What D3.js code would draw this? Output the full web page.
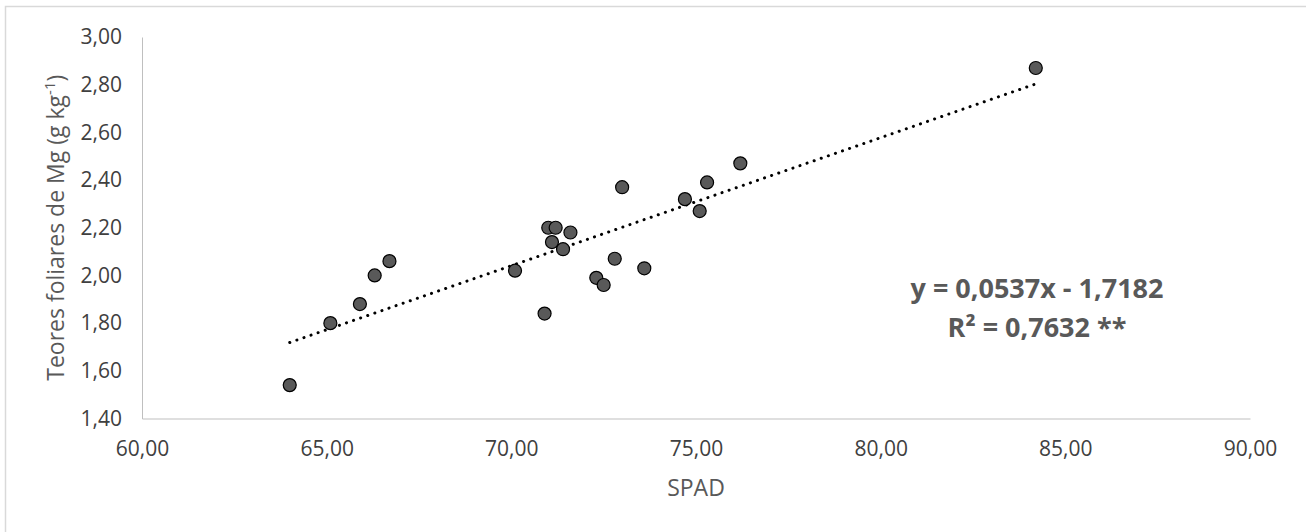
<!DOCTYPE html>
<meta charset="utf-8">
<style>

body {
  margin: 0;
  background: #fff;
  font-family: "Open Sans", sans-serif;
}

.axis path {
  fill: none;
  stroke: #bfbfbf;
  stroke-width: 1px;
}

.axis text {
  font-family: "Open Sans", sans-serif;
  font-size: 21px;
  fill: #404040;
}

.trend {
  fill: none;
  stroke: #000;
  stroke-width: 3px;
  stroke-linecap: round;
  stroke-dasharray: 0.1 7.4;
}

.dot {
  fill: #595959;
  stroke: #000;
  stroke-width: 1.2px;
}

.label {
  fill: #595959;
  font-size: 23px;
}

.eq {
  fill: #595959;
  font-size: 27px;
  font-weight: bold;
}

</style>
<body>
    <div id="graph"></div>
    <script src="https://cdn.jsdelivr.net/npm/d3@7/dist/d3.min.js"></script>
    <script>
    // SPAD readings and leaf Mg content (g/kg)
    var spad = [64.0, 65.1, 65.9, 66.3, 66.7, 70.1, 70.9, 71.0, 71.2, 71.1, 71.4,
                71.6, 73.0, 72.8, 72.3, 72.5, 73.6, 74.7, 75.1, 75.3, 76.2, 84.2];
    var mg   = [1.54, 1.80, 1.88, 2.00, 2.06, 2.02, 1.84, 2.20, 2.20, 2.14, 2.11,
                2.18, 2.37, 2.07, 1.99, 1.96, 2.03, 2.32, 2.27, 2.39, 2.47, 2.87];

    var xTicks = [60, 65, 70, 75, 80, 85, 90];
    var yTicks = [1.4, 1.6, 1.8, 2.0, 2.2, 2.4, 2.6, 2.8, 3.0];

    var slope = 0.0537, intercept = -1.7182;
    var eqLines = ["y = 0,0537x - 1,7182", "R\u00b2 = 0,7632 **"];

    var margin = {top: 37, right: 56, bottom: 113.5, left: 142},
        width = 1306 - margin.left - margin.right,
        height = 532 - margin.top - margin.bottom;

    var locale = d3.formatLocale({decimal: ",", thousands: ".", grouping: [3], currency: ["", ""]});
    var fmt = locale.format(".2f");

    var root = d3.select("#graph")
      .append("svg")
        .attr("width", 1306)
        .attr("height", 532);

    // chart border (only top and left fall inside the picture)
    root.append("rect")
        .attr("x", 5.5)
        .attr("y", 6.5)
        .attr("width", 1320)
        .attr("height", 560)
        .attr("fill", "none")
        .attr("stroke", "#d9d9d9")
        .attr("stroke-width", 1.5);

    var svg = root.append("g")
        .attr("transform", "translate(" + margin.left + "," + margin.top + ")");

    var x = d3.scaleLinear().domain([60, 90]).range([0, width]);
    var y = d3.scaleLinear().domain([1.4, 3.0]).range([height, 0]);

    svg.append("g")
        .attr("class", "x axis")
        .attr("transform", "translate(0," + height + ")")
        .call(d3.axisBottom(x).tickValues(xTicks).tickFormat(fmt).tickSize(0).tickPadding(23));

    svg.append("g")
        .attr("class", "y axis")
        .call(d3.axisLeft(y).tickValues(yTicks).tickFormat(fmt).tickSize(0).tickPadding(20));

    // trend line over the data range
    var xr = d3.extent(spad);
    svg.append("path")
        .datum(xr)
        .attr("class", "trend")
        .attr("d", d3.line()
            .x(function(d) { return x(d); })
            .y(function(d) { return y(slope * d + intercept); }));

    var pts = spad.map(function(d, i) { return {x: d, y: mg[i]}; });

    svg.selectAll(".dot")
        .data(pts)
        .enter()
        .append("circle")
        .attr("class", "dot")
        .attr("r", 6.5)
        .attr("cx", function(d) { return x(d.x); })
        .attr("cy", function(d) { return y(d.y); });

    // axis titles
    svg.append("text")
        .attr("class", "label")
        .attr("text-anchor", "middle")
        .attr("x", width / 2)
        .attr("y", height + 77)
        .text("SPAD");

    var yl = svg.append("text")
        .attr("class", "label")
        .attr("text-anchor", "middle")
        .attr("transform", "translate(" + (64 - margin.left) + "," + (height / 2) + ") rotate(-90)");
    yl.append("tspan").text("Teores foliares de Mg (g kg");
    yl.append("tspan").attr("font-size", "15px").attr("dy", "-9").text("-1");
    yl.append("tspan").attr("dy", "9").text(")");

    // regression equation
    svg.selectAll(".eq")
        .data(eqLines)
        .enter()
        .append("text")
        .attr("class", "eq")
        .attr("text-anchor", "middle")
        .attr("x", 1037 - margin.left)
        .attr("y", function(d, i) { return 298 - margin.top + i * 38.5; })
        .text(function(d) { return d; });

    </script>
</body>
